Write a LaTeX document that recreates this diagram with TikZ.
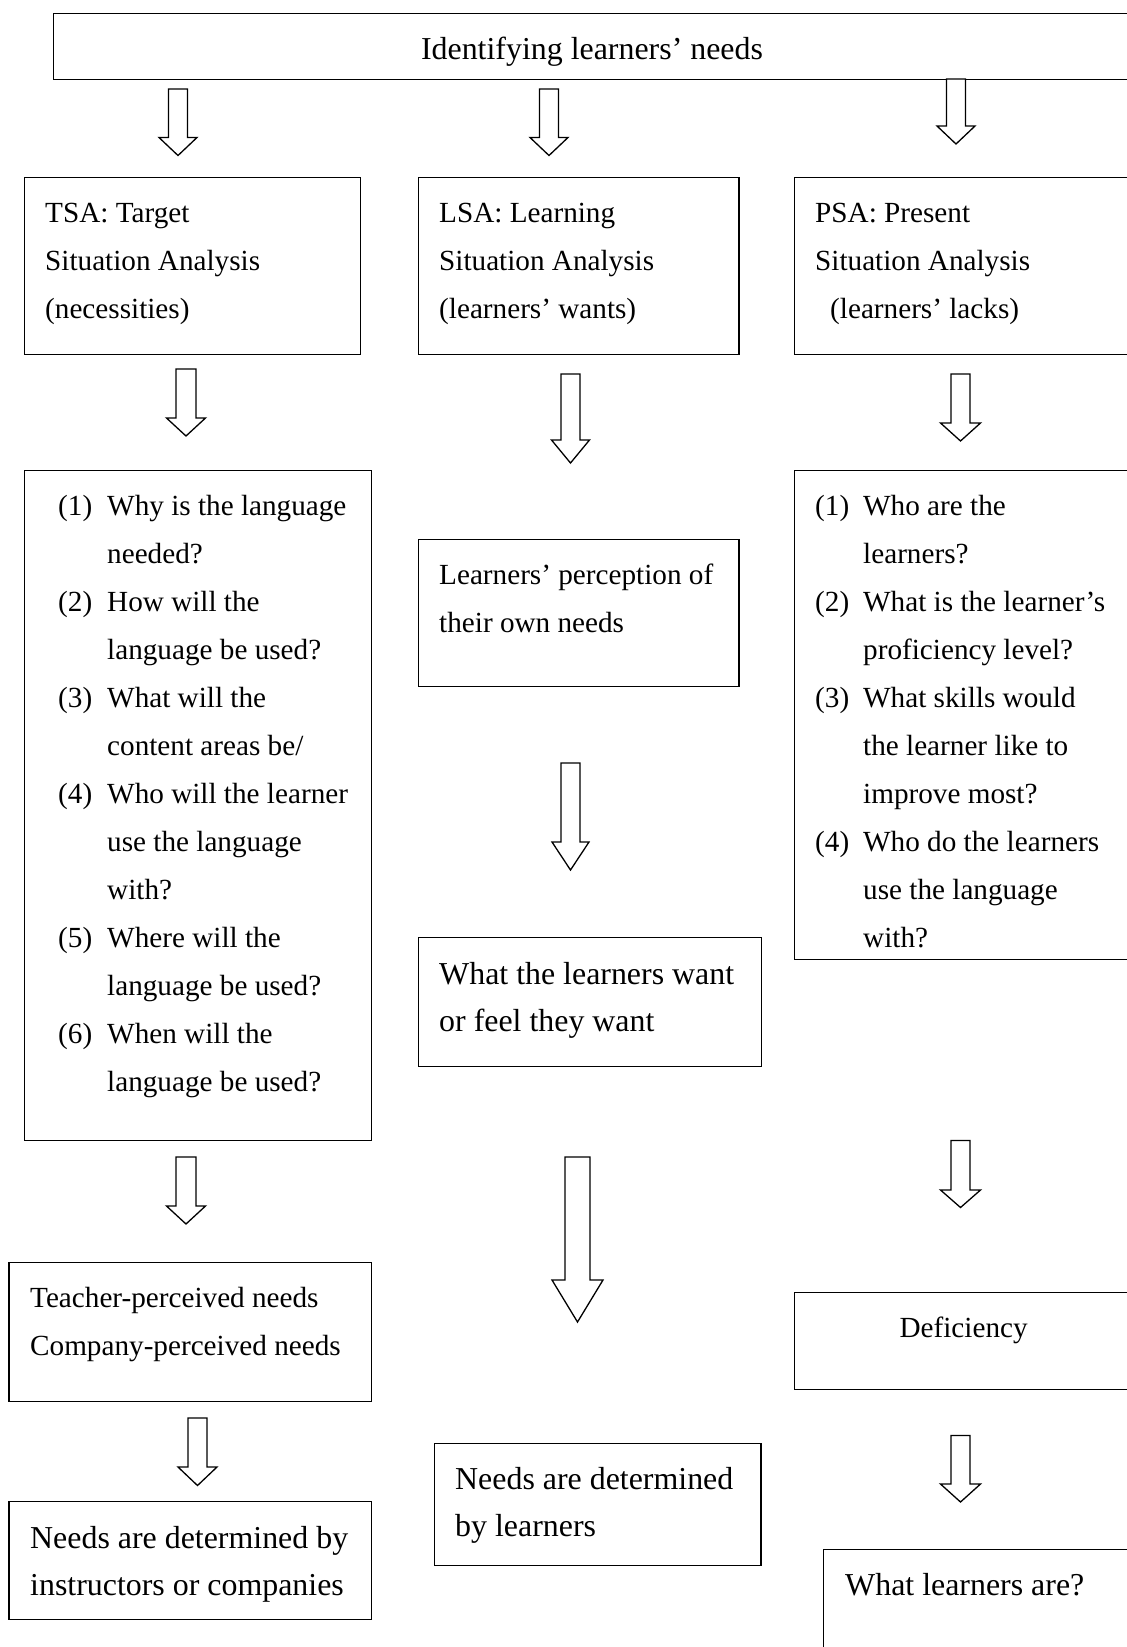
\documentclass[tikz,border=0pt]{standalone}
\usepackage{fontspec}
\setmainfont{Liberation Serif}
\usetikzlibrary{positioning,calc}
\newlength{\qindent}
\newcommand{\qline}[2]{\makebox[\qindent][l]{#1}#2}
\tikzset{
    framebox/.style={draw,line width=1.3pt,inner sep=0pt,anchor=north west},
    boxtext/.style={inner sep=0pt,anchor=base west,font=\fontsize{29.2}{48}\selectfont},
    bigtext/.style={inner sep=0pt,anchor=base west,font=\fontsize{31.9}{47.3}\selectfont},
    pics/hollowdown/.style n args={4}{code={
        \draw[line width=1.3pt,line join=miter,fill=white]
            (-#1,0) -- (#1,0) -- (#1,#3) -- (#2,#3) -- (0,#4) -- (-#2,#3) -- (-#1,#3) -- cycle;
    }}
}

\begin{document}
\begin{tikzpicture}[x=1pt,y=-1pt]
    \useasboundingbox (0,0) rectangle (1127,1647);
    \clip (0,0) rectangle (1127,1647);
    % boxes
    \node[framebox,minimum width=1078.5pt,minimum height=66.2pt] (need) at (52.5,12.6) {};
    \node[framebox,minimum width=336pt,minimum height=177.5pt] (tsa) at (24,176.5) {};
    \node[framebox,minimum width=320.4pt,minimum height=177.5pt] (lsa) at (418,176.5) {};
    \node[framebox,minimum width=346pt,minimum height=177.5pt] (psa) at (794,176.5) {};
    \node[framebox,minimum width=347pt,minimum height=670.5pt] (tsaq) at (24,469.5) {};
    \node[framebox,minimum width=320.4pt,minimum height=147pt] (percep) at (418,539) {};
    \node[framebox,minimum width=346pt,minimum height=489.5pt] (psaq) at (794,469.5) {};
    \node[framebox,minimum width=343pt,minimum height=129pt] (want) at (418,937) {};
    \node[framebox,minimum width=362.6pt,minimum height=138.5pt] (teacher) at (8.4,1262) {};
    \node[framebox,minimum width=362.6pt,minimum height=118pt] (instr) at (8.4,1501) {};
    \node[framebox,minimum width=326.4pt,minimum height=122pt] (bylrn) at (434,1443) {};
    \node[framebox,minimum width=339pt,minimum height=97pt] (defic) at (794,1292) {};
    \node[framebox,minimum width=317.5pt,minimum height=150pt] (lrnare) at (822.5,1549) {};

    % texts
    \node[bigtext,anchor=base] (need-t) at (592,59) {Identifying learners’ needs};
    \node[boxtext] (tsa-t) at (45,222) {\parbox[t]{400pt}{TSA: Target\\Situation Analysis\\(necessities)}};
    \node[boxtext] (lsa-t) at (439,222) {\parbox[t]{400pt}{LSA: Learning\\Situation Analysis\\(learners’ wants)}};
    \node[boxtext] (psa-t) at (815,222) {\parbox[t]{400pt}{PSA: Present\\Situation Analysis\\\hspace*{15pt}(learners’ lacks)}};
    \node[boxtext] (tsaq-t) at (58,515) {\parbox[t]{420pt}{\setlength{\qindent}{49pt}%
        \qline{(1)}{Why is the language}\\
        \qline{}{needed?}\\
        \qline{(2)}{How will the}\\
        \qline{}{language be used?}\\
        \qline{(3)}{What will the}\\
        \qline{}{content areas be/}\\
        \qline{(4)}{Who will the learner}\\
        \qline{}{use the language}\\
        \qline{}{with?}\\
        \qline{(5)}{Where will the}\\
        \qline{}{language be used?}\\
        \qline{(6)}{When will the}\\
        \qline{}{language be used?}}};
    \node[boxtext] (percep-t) at (439,584.5) {\parbox[t]{400pt}{Learners’ perception of\\their own needs}};
    \node[boxtext] (psaq-t) at (815,515) {\parbox[t]{420pt}{\setlength{\qindent}{48pt}%
        \qline{(1)}{Who are the}\\
        \qline{}{learners?}\\
        \qline{(2)}{What is the learner’s}\\
        \qline{}{proficiency level?}\\
        \qline{(3)}{What skills would}\\
        \qline{}{the learner like to}\\
        \qline{}{improve most?}\\
        \qline{(4)}{Who do the learners}\\
        \qline{}{use the language}\\
        \qline{}{with?}}};
    \node[bigtext] (want-t) at (439,984.5) {\parbox[t]{400pt}{What the learners want\\or feel they want}};
    \node[boxtext] (teacher-t) at (30,1307.6) {\parbox[t]{420pt}{Teacher-perceived needs\\Company-perceived needs}};
    \node[bigtext] (instr-t) at (30,1548) {\parbox[t]{420pt}{Needs are determined by\\instructors or companies}};
    \node[bigtext] (bylrn-t) at (455,1489.5) {\parbox[t]{400pt}{Needs are determined\\by learners}};
    \node[boxtext,anchor=base] (defic-t) at (963.6,1337) {Deficiency};
    \node[bigtext] (lrnare-t) at (845,1595) {What learners are?};

    % block arrows
    \pic (arrA) at (178,89) {hollowdown={9.5}{19}{48.5}{66.5}};
    \pic (arrB) at (549,89) {hollowdown={9.5}{19}{48.5}{66.5}};
    \pic (arrC) at (956,79) {hollowdown={9.5}{19}{47}{65}};
    \pic (arrD) at (186,369) {hollowdown={10}{19.5}{49}{67}};
    \pic (arrE) at (570.5,374) {hollowdown={9.5}{19}{66}{89}};
    \pic (arrF) at (960.5,374) {hollowdown={9.5}{20}{49}{67}};
    \pic (arrG) at (186,1157) {hollowdown={10}{19.5}{49}{67}};
    \pic (arrH) at (197.5,1418) {hollowdown={9.5}{19.5}{49}{67.5}};
    \pic (arrW) at (570.5,763) {hollowdown={9.5}{18.5}{79}{107}};
    \pic (arrI) at (577.5,1157) {hollowdown={12.5}{25.5}{123}{165}};
    \pic (arrJ) at (960.5,1140.5) {hollowdown={9.5}{20}{49.5}{67}};
    \pic (arrK) at (960.5,1435.5) {hollowdown={9.5}{20}{48.5}{66.5}};
\end{tikzpicture}
\end{document}
